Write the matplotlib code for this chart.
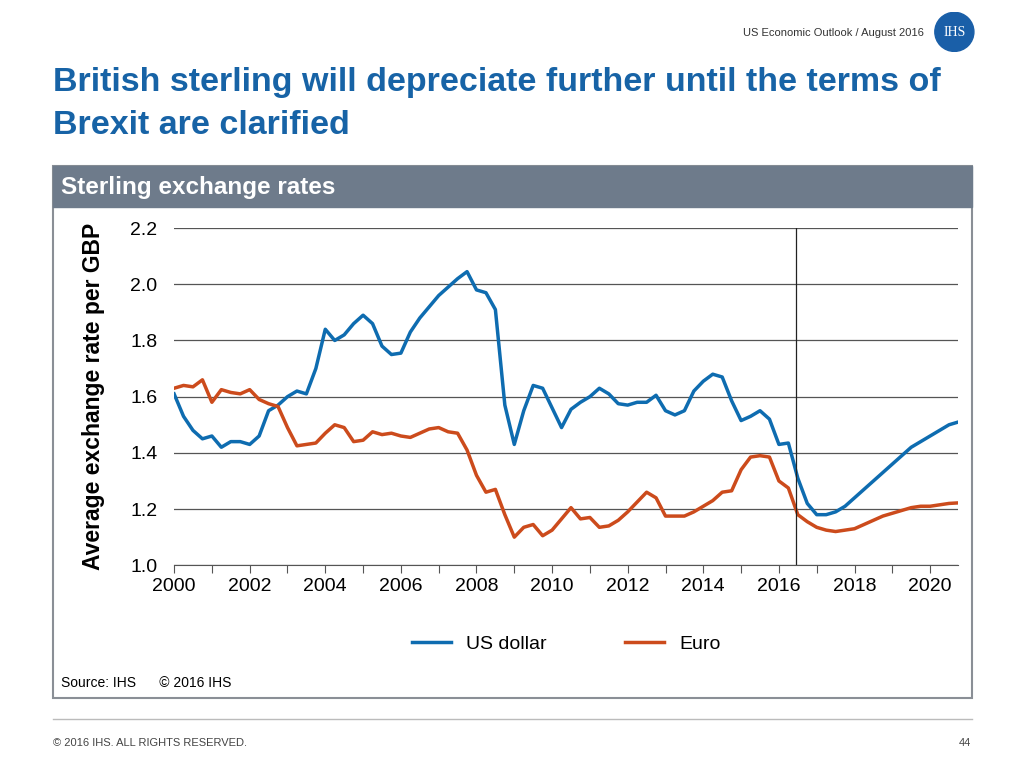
import numpy as np
import matplotlib.pyplot as plt
from matplotlib.patches import Rectangle, Circle

usd = [1.61, 1.53, 1.48, 1.45, 1.46, 1.42, 1.44, 1.44,
       1.43, 1.46, 1.55, 1.57, 1.60, 1.62, 1.61, 1.70,
       1.84, 1.80, 1.82, 1.86, 1.89, 1.86, 1.78, 1.75,
       1.755, 1.83, 1.88, 1.92, 1.96, 1.99, 2.02, 2.045,
       1.98, 1.97, 1.91, 1.57, 1.43, 1.55, 1.64, 1.63,
       1.56, 1.49, 1.555, 1.58, 1.60, 1.63, 1.61, 1.575,
       1.57, 1.58, 1.58, 1.605, 1.55, 1.535, 1.55, 1.62,
       1.655, 1.68, 1.67, 1.585, 1.515, 1.53, 1.55, 1.52,
       1.43, 1.435, 1.31, 1.22, 1.18, 1.18, 1.19, 1.21,
       1.24, 1.27, 1.30, 1.33, 1.36, 1.39, 1.42, 1.44,
       1.46, 1.48, 1.50, 1.51]
eur = [1.63, 1.64, 1.635, 1.66, 1.58, 1.625, 1.615, 1.61,
       1.625, 1.59, 1.575, 1.565, 1.49, 1.425, 1.43, 1.435,
       1.47, 1.50, 1.49, 1.44, 1.445, 1.475, 1.465, 1.47,
       1.46, 1.455, 1.47, 1.485, 1.49, 1.475, 1.47, 1.41,
       1.32, 1.26, 1.27, 1.18, 1.10, 1.135, 1.145, 1.105,
       1.125, 1.165, 1.205, 1.165, 1.17, 1.135, 1.14, 1.16,
       1.19, 1.225, 1.26, 1.24, 1.175, 1.175, 1.175, 1.19,
       1.21, 1.23, 1.26, 1.265, 1.34, 1.385, 1.39, 1.385,
       1.30, 1.275, 1.18, 1.155, 1.135, 1.125, 1.12, 1.125,
       1.13, 1.145, 1.16, 1.175, 1.185, 1.195, 1.205, 1.21,
       1.21, 1.215, 1.22, 1.222]
x = 2000 + np.arange(len(usd)) / 4
forecast_start = 2016.45

blue = "#0e6cb0"
orange = "#cc4b1c"

fig = plt.figure(figsize=(10.24, 7.68), dpi=100)
plt.rcParams["font.family"] = ["Liberation Sans", "DejaVu Sans"]

# header / footer
fig.text(0.902, 0.957, "US Economic Outlook / August 2016", ha="right", va="center", fontsize=8, color="#333333")
logo = fig.add_axes([0.912, 0.932, 0.04, 0.053])
logo.set_aspect("equal")
logo.axis("off")
logo.add_patch(Circle((0.5, 0.5), 0.48, color="#1a5fa8"))
logo.text(0.5, 0.48, "IHS", ha="center", va="center", fontsize=10, color="white", family="Liberation Serif")
logo.set_xlim(0, 1)
logo.set_ylim(0, 1)

fig.text(0.052, 0.892, "British sterling will depreciate further until the terms of", fontsize=24.5,
         fontweight="bold", color="#1763a6", va="center")
fig.text(0.052, 0.837, "Brexit are clarified", fontsize=24.5, fontweight="bold", color="#1763a6", va="center")

# panel
fig.patches.append(Rectangle((0.052, 0.091), 0.897, 0.693, transform=fig.transFigure,
                             fill=False, edgecolor="#8a8f96", lw=1.5))
fig.patches.append(Rectangle((0.052, 0.730), 0.897, 0.054, transform=fig.transFigure, color="#6e7b8b"))
fig.text(0.06, 0.756, "Sterling exchange rates", fontsize=17.5, fontweight="bold", color="white", va="center")
fig.text(0.06, 0.111, "Source: IHS      \u00a9 2016 IHS", fontsize=10, va="center")

fig.add_artist(plt.Line2D([0.052, 0.949], [0.064, 0.064], transform=fig.transFigure, color="#bbbbbb", lw=1))
fig.text(0.052, 0.032, "\u00a9 2016 IHS. ALL RIGHTS RESERVED.", fontsize=8, color="#444444", va="center")
fig.text(0.948, 0.032, "44", fontsize=8, color="#444444", va="center", ha="right")

ax = fig.add_axes([0.17, 0.264, 0.766, 0.439])
ax.plot(x, usd, color=blue, lw=2.5, label="US dollar")
ax.plot(x, eur, color=orange, lw=2.5, label="Euro")
ax.axvline(forecast_start, color="#222222", lw=0.9)

ax.set_xlim(2000, 2020.75)
ax.set_ylim(1.0, 2.2)
ax.set_yticks(np.arange(1.0, 2.21, 0.2))
ax.set_yticklabels([f"{v:.1f}" for v in np.arange(1.0, 2.21, 0.2)], fontsize=14)
ax.set_xticks(range(2000, 2021))
ax.set_xticklabels([str(y) if y % 2 == 0 else "" for y in range(2000, 2021)], fontsize=14)
ax.tick_params(axis="y", length=0, pad=12)
ax.tick_params(axis="x", direction="out", length=6, color="#555555")
ax.grid(axis="y", color="#555555", lw=0.9)
for s in ["top", "right", "left"]:
    ax.spines[s].set_visible(False)
ax.spines["bottom"].set_color("#555555")
ax.set_ylabel("Average exchange rate per GBP", fontsize=16.5, fontweight="bold", labelpad=18)
ax.legend(loc="upper center", bbox_to_anchor=(0.5, -0.155), ncol=2, frameon=False,
          fontsize=14, handlelength=2, columnspacing=4)

fig.savefig("out.png", dpi=100)
